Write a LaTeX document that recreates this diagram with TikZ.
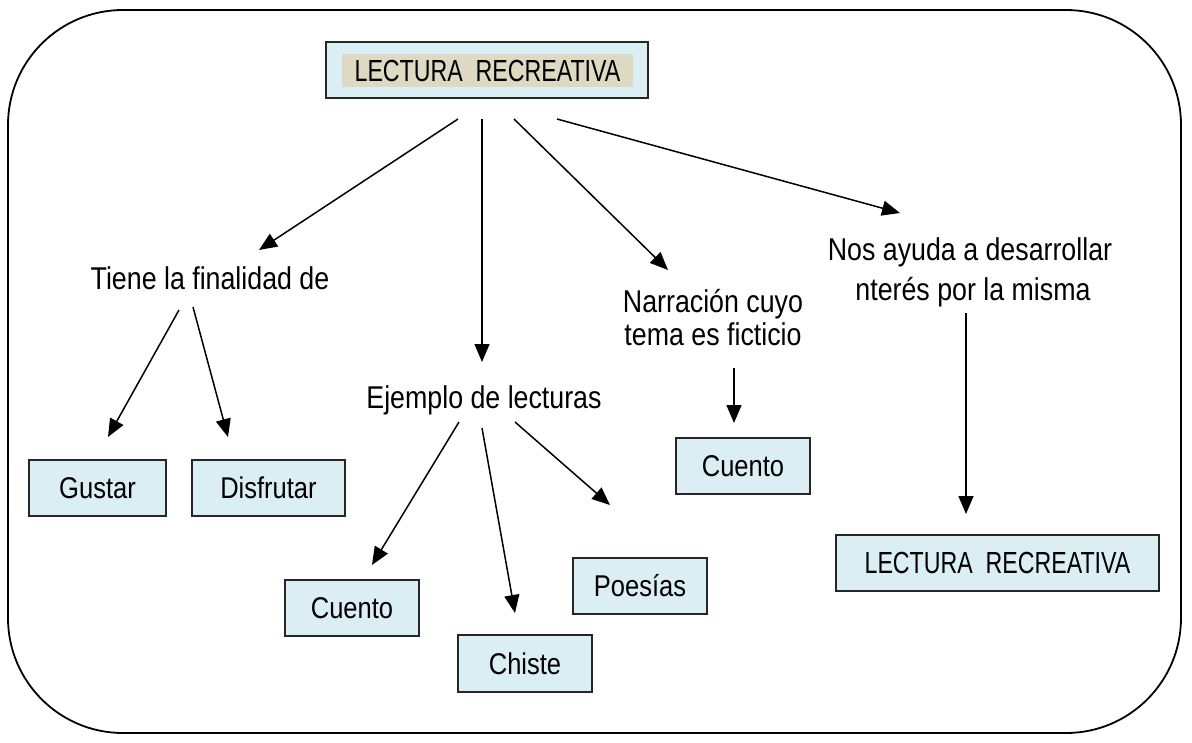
\documentclass[tikz,border=0pt]{standalone}
\usepackage{fontspec}
\setmainfont{Liberation Sans}[FakeStretch=0.85]
\newfontfamily\narrowcaps{Liberation Sans}[FakeStretch=0.76]
\usetikzlibrary{arrows.meta}
\definecolor{boxblue}{HTML}{DAEEF3}
\definecolor{beige}{HTML}{DDD9C3}
\tikzset{
  box/.style={draw=black!85, line width=1.6pt, fill=boxblue, minimum height=56pt, inner sep=0pt, font=\fontsize{30}{32}\selectfont},
  free/.style={anchor=base, inner sep=0pt, font=\fontsize{31.5}{34}\selectfont},
  arr/.style={line width=1.5pt, -{Triangle[length=18pt,width=15pt]}}
}
\begin{document}
\begin{tikzpicture}[x=1pt,y=-1pt]
\useasboundingbox (0,0) rectangle (1192,742);
% outer frame
\draw[line width=1.8pt, rounded corners=115pt] (8,10) rectangle (1181,733);
% top box
\node[box, minimum width=322pt] (top) at (487,70) {};
\node[fill=beige, minimum width=291pt, minimum height=33pt, inner sep=0pt, font=\fontsize{30.5}{32}\narrowcaps] (toptxt) at (487.5,70.5) {LECTURA\ \ RECREATIVA};
% boxes
\node[box, minimum width=137pt] (gustar) at (97.5,488) {Gustar};
\node[box, minimum width=153pt] (disfrutar) at (268.5,488) {Disfrutar};
\node[box, minimum width=134pt] (cuento1) at (352,608) {Cuento};
\node[box, minimum width=134pt, minimum height=57pt] (chiste) at (525,663.5) {Chiste};
\node[box, minimum width=134pt] (poesias) at (640,586) {Poesías};
\node[box, minimum width=134pt] (cuento2) at (743,466) {Cuento};
\node[box, minimum width=323pt, font=\fontsize{30.5}{32}\narrowcaps] (lr2) at (997.5,563) {LECTURA\ \ RECREATIVA};
% free texts
\node[free] (tiene) at (210,289) {Tiene la finalidad de};
\node[free] (ejemplo) at (484,408) {Ejemplo de lecturas};
\node[free] (nar1) at (713,312) {Narración cuyo};
\node[free] (nar2) at (713,345) {tema es ficticio};
\node[free] (nos1) at (970,260) {Nos ayuda a desarrollar};
\node[free] (nos2) at (973,300) {nterés por la misma};
% connector ends
\coordinate (t1) at (458,119); \coordinate (h1) at (259,250);
\coordinate (t2) at (482,119); \coordinate (h2) at (482,362);
\coordinate (t3) at (514,119); \coordinate (h3) at (668,270);
\coordinate (t4) at (557,119); \coordinate (h4) at (900,213);
\coordinate (t5) at (179,310); \coordinate (h5) at (108,437);
\coordinate (t6) at (193,307); \coordinate (h6) at (228,437);
\coordinate (t7) at (459,422); \coordinate (h7) at (372,565);
\coordinate (t8) at (482,428); \coordinate (h8) at (515,613);
\coordinate (t9) at (515,422); \coordinate (h9) at (610,505);
\coordinate (t10) at (734,368); \coordinate (h10) at (734,423);
\coordinate (t11) at (966,313); \coordinate (h11) at (966,514);
\foreach \i in {1,...,11} { \draw[arr] (t\i) -- (h\i); }
\end{tikzpicture}
\end{document}
